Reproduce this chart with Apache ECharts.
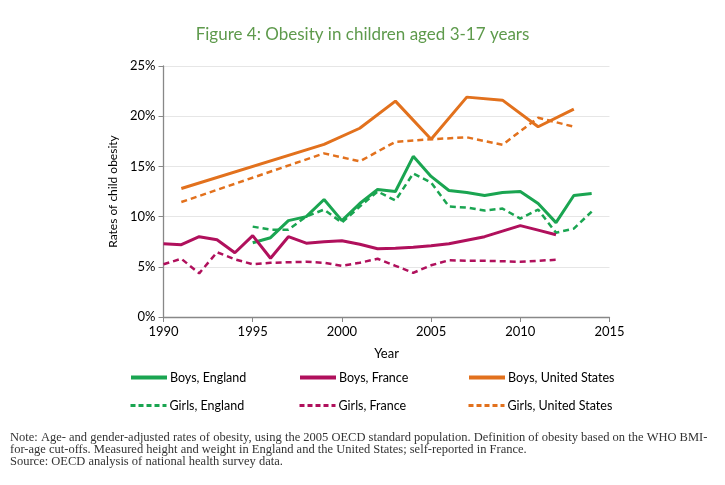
<!DOCTYPE html>
<html>
<head>
<meta charset="utf-8">
<script src="https://cdn.jsdelivr.net/npm/echarts@6/dist/echarts.min.js"></script>
<style>
html,body{margin:0;padding:0;background:#fff;}
#chart{width:725px;height:485px;}
</style>
</head>
<body>
<div id="chart"></div>
<script>
// ---- data ----
var englandYears = [1995,1996,1997,1998,1999,2000,2001,2002,2003,2004,2005,2006,2007,2008,2009,2010,2011,2012,2013,2014];
var boysEngland  = [7.4,7.9,9.6,10.0,11.7,9.6,11.3,12.7,12.5,16.0,14.0,12.6,12.4,12.1,12.4,12.5,11.3,9.4,12.1,12.3];
var girlsEngland = [9.0,8.7,8.7,10.0,10.7,9.4,11.0,12.5,11.6,14.3,13.4,11.0,10.9,10.6,10.8,9.8,10.7,8.4,8.8,10.5];

var franceYears = [1990,1991,1992,1993,1994,1995,1996,1997,1998,1999,2000,2001,2002,2003,2004,2005,2006,2007,2008,2009,2010,2011,2012];
var boysFrance  = [7.3,7.2,8.0,7.7,6.4,8.1,5.85,8.0,7.35,7.5,7.6,7.25,6.8,6.85,6.95,7.1,7.3,7.65,8.0,8.55,9.1,8.65,8.2];
var girlsFrance = [5.25,5.8,4.35,6.45,5.75,5.25,5.4,5.45,5.5,5.4,5.1,5.4,5.8,5.1,4.4,5.15,5.65,5.6,5.6,5.55,5.5,5.6,5.7];

var usYears = [1991,1999,2001,2003,2005,2007,2009,2011,2013];
var boysUS  = [12.8,17.2,18.8,21.5,17.7,21.9,21.6,18.95,20.7];
var girlsUS = [11.45,16.3,15.5,17.45,17.7,17.9,17.15,19.85,18.95];

var xTicks = [1990,1995,2000,2005,2010,2015];
var yTicks = [0,5,10,15,20,25];

var titleText = 'Figure 4: Obesity in children aged 3-17 years';
var noteLines = [
  'Note: Age- and gender-adjusted rates of obesity, using the 2005 OECD standard population. Definition of obesity based on the WHO BMI-',
  'for-age cut-offs. Measured height and weight in England and the United States; self-reported in France.',
  'Source: OECD analysis of national health survey data.'
];

// ---- build ----
function pairs(xs, ys){ return xs.map(function(x,i){ return [x, ys[i]]; }); }

var GREEN = '#1aa551', MAGENTA = '#b0105c', ORANGE = '#e2711d';
var FONT = 'Lato, "Open Sans", sans-serif';

function mk(name, xs, ys, color, dashed){
  return {
    name: name, type: 'line', data: pairs(xs, ys),
    symbol: 'none', smooth: false,
    lineStyle: { color: color, width: dashed ? 2.5 : 3, type: dashed ? [6,4] : 'solid' },
    itemStyle: { color: color },
    z: dashed ? 3 : 4
  };
}

var series = [
  mk('Boys, England', englandYears, boysEngland, GREEN, false),
  mk('Boys, France', franceYears, boysFrance, MAGENTA, false),
  mk('Boys, United States', usYears, boysUS, ORANGE, false),
  mk('Girls, England', englandYears, girlsEngland, GREEN, true),
  mk('Girls, France', franceYears, girlsFrance, MAGENTA, true),
  mk('Girls, United States', usYears, girlsUS, ORANGE, true)
];

var legendPos = [
  [129, 371], [298, 371], [467, 371],
  [129, 399], [298, 399], [467, 399]
];
var legends = series.map(function(s, i){
  var dashed = i >= 3;
  return {
    data: [s.name], left: legendPos[i][0], top: legendPos[i][1],
    itemWidth: 36, itemHeight: 14, itemGap: 4, padding: 0,
    itemStyle: { opacity: 0 },
    lineStyle: { width: dashed ? 3 : 4, type: dashed ? [5,3] : 'solid' },
    textStyle: { fontFamily: FONT, fontSize: 12.5, color: '#000', padding: [0,0,0,-2] }
  };
});

var chart = echarts.init(document.getElementById('chart'));
chart.setOption({
  backgroundColor: '#fff',
  animation: false,
  title: {
    text: titleText, left: 'center', top: 21,
    textStyle: { fontFamily: FONT, fontSize: 17, fontWeight: 'normal', color: '#5e9a4c' }
  },
  legend: legends,
  grid: { left: 163.5, right: 115.5, top: 66, bottom: 168, containLabel: false },
  xAxis: {
    type: 'value', min: xTicks[0], max: xTicks[xTicks.length-1], interval: 5,
    name: 'Year', nameLocation: 'middle', nameGap: 30,
    nameTextStyle: { fontFamily: FONT, fontSize: 13, color: '#000' },
    axisLine: { lineStyle: { color: '#888', width: 1.3 } },
    axisTick: { show: true, inside: false, length: 5, lineStyle: { color: '#888' } },
    axisLabel: { fontFamily: FONT, fontSize: 13, color: '#000', margin: 8,
      formatter: function(v){ return String(v); } },
    splitLine: { show: false }
  },
  yAxis: {
    type: 'value', min: yTicks[0], max: yTicks[yTicks.length-1], interval: 5,
    name: 'Rates of child obesity', nameLocation: 'middle', nameGap: 42, nameRotate: 90,
    nameTextStyle: { fontFamily: FONT, fontSize: 12, color: '#000' },
    axisLine: { show: true, lineStyle: { color: '#888', width: 1.3 } },
    axisTick: { show: true, inside: false, length: 5, lineStyle: { color: '#888' } },
    axisLabel: { fontFamily: FONT, fontSize: 13, color: '#000', margin: 8, formatter: '{value}%' },
    splitLine: { show: true, lineStyle: { color: '#e6e6e6', width: 1 } }
  },
  graphic: noteLines.map(function(t, i){
    return {
      type: 'text', left: 10, top: 431 + i * 12,
      style: { text: t, font: '12.5px "Liberation Serif", serif', fill: '#333' }
    };
  }),
  series: series
});
</script>
</body>
</html>
